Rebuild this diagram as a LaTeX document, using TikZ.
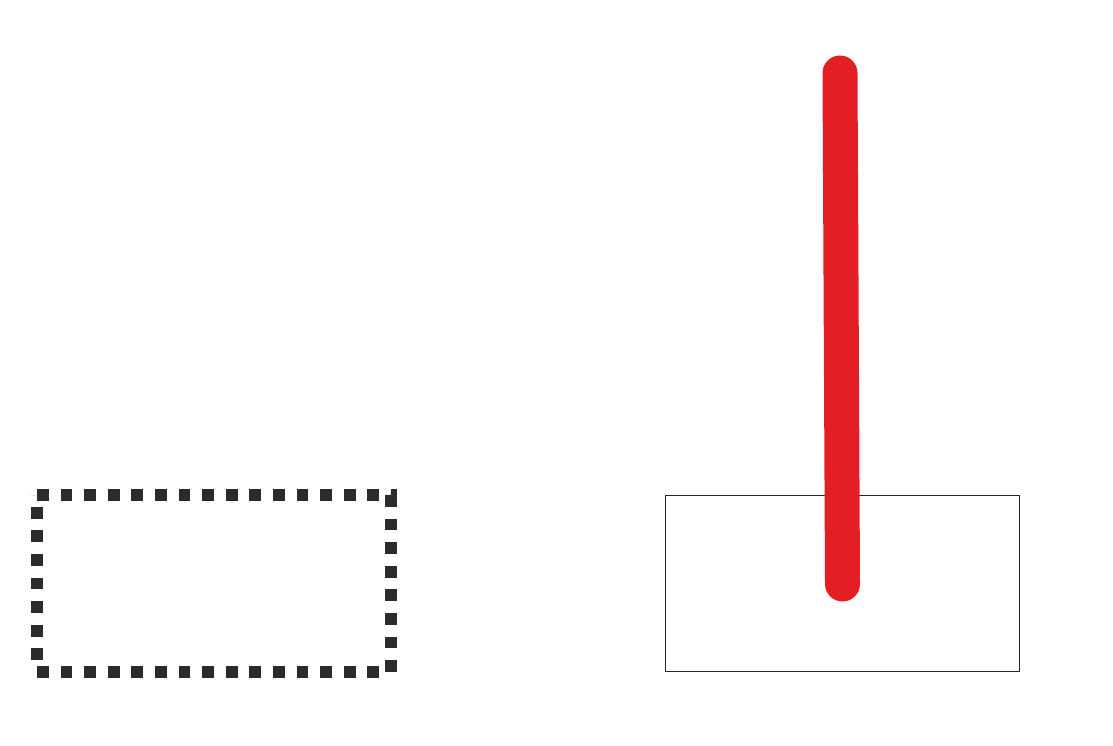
\documentclass[tikz,border=0pt]{standalone}
\definecolor{dotgray}{HTML}{2B2B2B}
\definecolor{barred}{HTML}{E31E24}
\tikzset{
  dotbox/.style={draw=dotgray, line width=12pt, dash pattern=on 11.8pt off 11.8pt, line join=miter},
  thinbox/.style={draw=black!85, line width=0.9pt},
  redbar/.style={draw=barred, line width=35pt, line cap=round}
}
\begin{document}
\begin{tikzpicture}[x=1pt,y=-1pt]
\useasboundingbox (0,0) rectangle (1113,746);
\draw[dotbox] (37,495) -- (391,495) -- (391,672) -- (37,672) -- cycle;
\draw[thinbox] (665.5,495.5) rectangle (1019.5,671.5);
\coordinate (bartop) at (840,73);
\coordinate (barbot) at (842.5,584);
\draw[redbar] (bartop) -- (barbot);
\end{tikzpicture}
\end{document}
